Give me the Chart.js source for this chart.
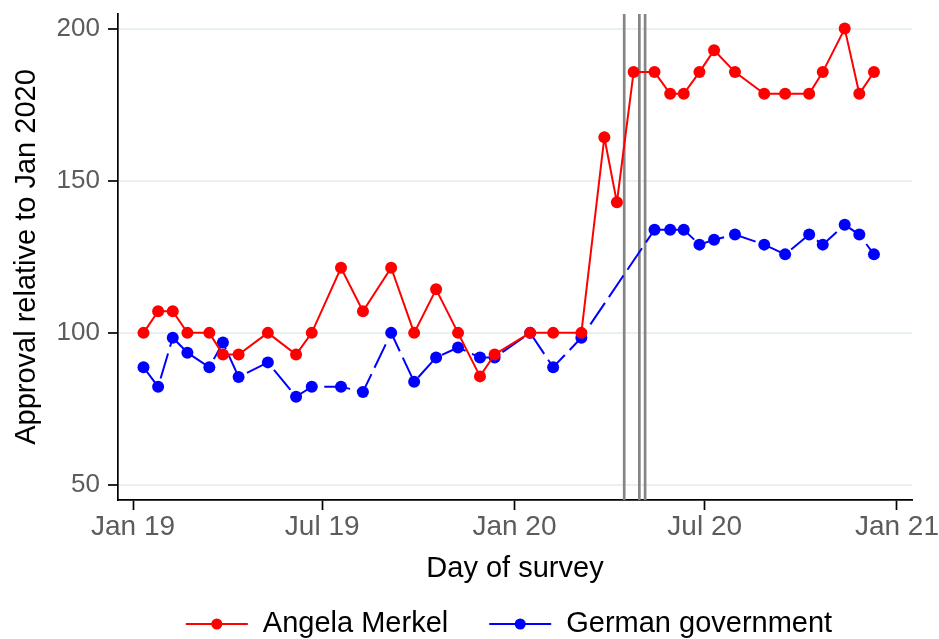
<!DOCTYPE html>
<html>
<head>
<meta charset="utf-8">
<script src="https://cdn.jsdelivr.net/npm/chart.js@4"></script>
<style>
  html, body { margin: 0; padding: 0; background: #fff; }
  #wrap { width: 939px; height: 639px; }
</style>
</head>
<body>
<div id="wrap"><canvas id="approvalChart" width="939" height="639"></canvas></div>
<script>
// days since 1 Jan 2019
const merkelDays = [10, 24, 38, 52, 73, 86, 101, 129, 156, 171, 199, 220, 247, 269, 290, 311, 332, 346, 380, 402, 429, 451, 463, 479, 499, 514, 527, 542, 556, 576, 604, 624, 647, 660, 681, 695, 709];
const merkelValues = [100, 107.1, 107.1, 100, 100, 92.9, 92.9, 100, 92.9, 100, 121.4, 107.1, 121.4, 100, 114.3, 100, 85.7, 92.9, 100, 100, 100, 164.3, 142.9, 185.7, 185.7, 178.6, 178.6, 185.7, 192.9, 185.7, 178.6, 178.6, 178.6, 185.7, 200, 178.6, 185.7];

const govDays = [10, 24, 38, 52, 73, 86, 101, 129, 156, 171, 199, 220, 247, 269, 290, 311, 332, 346, 380, 402, 429, 499, 514, 527, 542, 556, 576, 604, 624, 647, 660, 681, 695, 709];
const govValues = [88.7, 82.3, 98.4, 93.5, 88.7, 96.8, 85.5, 90.3, 79.0, 82.3, 82.3, 80.6, 100, 83.9, 91.9, 95.2, 91.9, 91.9, 100, 88.7, 98.4, 133.9, 133.9, 133.9, 129.0, 130.6, 132.3, 129.0, 125.8, 132.3, 129.0, 135.5, 132.3, 125.8];

const eventDays = [470, 484.5, 490];

const xTickDays = [0, 181, 365, 547, 731];
const xTickLabels = ['Jan 19', 'Jul 19', 'Jan 20', 'Jul 20', 'Jan 21'];
const yTickValues = [50, 100, 150, 200];

const FONT = '"Liberation Sans", Arial, Helvetica, sans-serif';

document.addEventListener('DOMContentLoaded', () => {

  const toPoints = (xs, ys) => xs.map((x, i) => ({x: x, y: ys[i]}));

  // grey vertical lines behind the series
  const eventLines = {
    id: 'eventLines',
    beforeDatasetsDraw(chart) {
      const {ctx, chartArea: {top, bottom}, scales: {x}} = chart;
      ctx.save();
      ctx.strokeStyle = '#858585';
      ctx.lineWidth = 2.7;
      eventDays.forEach(d => {
        const px = x.getPixelForValue(d);
        ctx.beginPath();
        ctx.moveTo(px, top);
        ctx.lineTo(px, bottom);
        ctx.stroke();
      });
      ctx.restore();
    }
  };

  // legend with line + dot, like the original
  const lineLegend = {
    id: 'lineLegend',
    afterDraw(chart) {
      const {ctx, chartArea: {left, right}} = chart;
      const items = chart.data.datasets;
      const lineLen = 62, gapText = 15, gapItem = 41, y = 624;
      ctx.save();
      ctx.font = '29px ' + FONT;
      const widths = items.map(ds => ctx.measureText(ds.label).width);
      let total = 0;
      widths.forEach((w, i) => { total += lineLen + gapText + w + (i ? gapItem : 0); });
      let xPos = (left + right) / 2 - 6 - total / 2;
      items.forEach((ds, i) => {
        ctx.strokeStyle = ds.borderColor;
        ctx.lineWidth = 2;
        ctx.setLineDash([]);
        ctx.beginPath();
        ctx.moveTo(xPos, y);
        ctx.lineTo(xPos + lineLen, y);
        ctx.stroke();
        ctx.fillStyle = ds.pointBackgroundColor;
        ctx.beginPath();
        ctx.arc(xPos + lineLen / 2, y, 5.5, 0, Math.PI * 2);
        ctx.fill();
        ctx.fillStyle = '#000';
        ctx.textBaseline = 'middle';
        ctx.fillText(ds.label, xPos + lineLen + gapText, y);
        xPos += lineLen + gapText + widths[i] + gapItem;
      });
      ctx.restore();
    }
  };

  const config = {
    type: 'line',
    data: {
      datasets: [{
        label: 'Angela Merkel',
        data: toPoints(merkelDays, merkelValues),
        borderColor: '#ff0000',
        backgroundColor: '#ff0000',
        pointBackgroundColor: '#ff0000',
        pointBorderWidth: 0,
        pointRadius: 6,
        borderWidth: 2,
        tension: 0
      }, {
        label: 'German government',
        data: toPoints(govDays, govValues),
        borderColor: '#0000ff',
        backgroundColor: '#0000ff',
        pointBackgroundColor: '#0000ff',
        pointBorderWidth: 0,
        pointRadius: 6,
        borderWidth: 2,
        borderDash: [26, 7],
        tension: 0
      }]
    },
    options: {
      responsive: false,
      animation: false,
      layout: { padding: { top: 14, right: 27, left: 0, bottom: 0 } },
      plugins: {
        legend: { display: false },
        tooltip: { enabled: false }
      },
      scales: {
        x: {
          type: 'linear',
          min: -14.4,
          max: 745.4,
          afterBuildTicks: scale => { scale.ticks = xTickDays.map(v => ({value: v})); },
          afterFit: scale => {
            scale.height = 139;
            scale.paddingLeft = 0;
            scale.paddingRight = 0;
          },
          grid: {
            drawOnChartArea: false,
            drawTicks: true,
            tickLength: 10,
            tickColor: '#000',
            tickWidth: 1.7
          },
          border: { color: '#000', width: 1.7 },
          ticks: {
            autoSkip: false,
            maxRotation: 0,
            padding: 0,
            color: '#5c5c5c',
            font: { family: FONT, size: 28 },
            callback: v => xTickLabels[xTickDays.indexOf(v)]
          },
          title: {
            display: true,
            text: 'Day of survey',
            color: '#000',
            font: { family: FONT, size: 29, lineHeight: 1.2 },
            padding: { top: 0, bottom: 53 }
          }
        },
        y: {
          min: 45.07,
          max: 204.8,
          afterBuildTicks: scale => { scale.ticks = yTickValues.map(v => ({value: v})); },
          afterFit: scale => {
            scale.width = 118;
            scale.paddingTop = 0;
            scale.paddingBottom = 0;
          },
          grid: {
            color: '#e9f0f3',
            lineWidth: 2,
            drawTicks: true,
            tickLength: 10,
            tickColor: '#000',
            tickWidth: 1.7
          },
          border: { color: '#000', width: 1.7 },
          ticks: {
            padding: 8,
            color: '#5c5c5c',
            font: { family: FONT, size: 26 }
          },
          title: {
            display: true,
            text: 'Approval relative to Jan 2020',
            color: '#000',
            font: { family: FONT, size: 29, lineHeight: 1.2 },
            padding: { top: 10, bottom: 0 }
          }
        }
      }
    },
    plugins: [eventLines, lineLegend]
  };

  new Chart(document.getElementById('approvalChart'), config);
});
</script>
</body>
</html>
